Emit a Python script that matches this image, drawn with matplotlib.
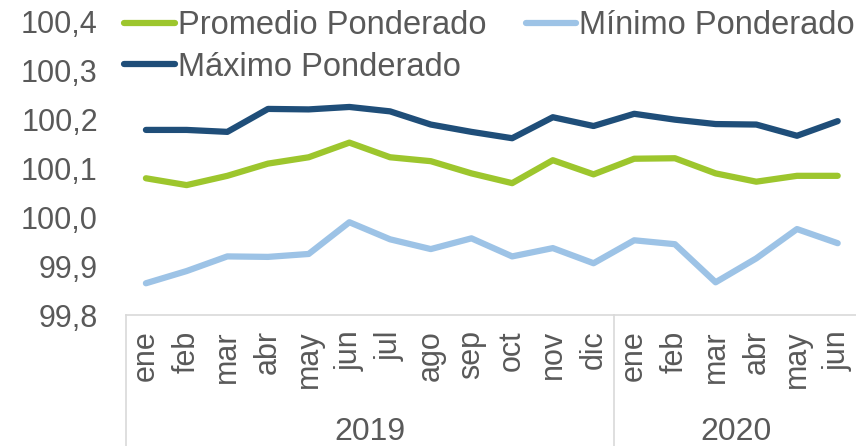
import matplotlib.pyplot as plt
from matplotlib.ticker import FuncFormatter, MultipleLocator
from matplotlib.lines import Line2D

plt.rcParams['font.family'] = ['Liberation Sans', 'DejaVu Sans']

meses = ["ene", "feb", "mar", "abr", "may", "jun", "jul", "ago", "sep", "oct", "nov", "dic",
         "ene", "feb", "mar", "abr", "may", "jun"]
anios = ["2019", "2020"]
meses_por_anio = [12, 6]

promedio = [100.080, 100.066, 100.085, 100.110, 100.123, 100.153, 100.123, 100.115, 100.090,
            100.070, 100.117, 100.088, 100.120, 100.121, 100.090, 100.073, 100.085, 100.085]
minimo = [99.865, 99.890, 99.920, 99.919, 99.925, 99.990, 99.955, 99.935, 99.957,
          99.920, 99.937, 99.906, 99.953, 99.945, 99.867, 99.916, 99.976, 99.947]
maximo = [100.179, 100.179, 100.175, 100.222, 100.221, 100.226, 100.217, 100.190, 100.175,
          100.162, 100.205, 100.187, 100.212, 100.200, 100.191, 100.190, 100.167, 100.197]

verde = "#9DC62D"
azul_claro = "#9DC3E6"
azul_osc = "#1F4E79"
gris_txt = "#595959"
gris_lin = "#D9D9D9"
fs = 22

fig = plt.figure(figsize=(8.56, 4.46), dpi=100)
ax = fig.add_axes([0.1467, 0.2937, 0.8533, 0.657])

x = list(range(len(meses)))
estilo = dict(lw=4.5, solid_capstyle="round", solid_joinstyle="round")
l1, = ax.plot(x, promedio, color=verde, **estilo)
l2, = ax.plot(x, minimo, color=azul_claro, **estilo)
l3, = ax.plot(x, maximo, color=azul_osc, **estilo)

ax.set_ylim(99.8, 100.4)
ax.set_xlim(-0.5, 17.45)
ax.yaxis.set_major_locator(MultipleLocator(0.1))
ax.yaxis.set_major_formatter(FuncFormatter(lambda v, p: f"{v:.1f}".replace(".", ",")))
ax.tick_params(axis="y", length=0, pad=20, labelsize=fs, labelcolor=gris_txt)

ax.set_xticks(x)
ax.set_xticklabels(meses, rotation=90)
ax.tick_params(axis="x", length=0, pad=11, labelsize=fs, labelcolor=gris_txt)

for s in ["left", "right", "top"]:
    ax.spines[s].set_visible(False)
ax.spines["bottom"].set_color(gris_lin)
ax.spines["bottom"].set_linewidth(1.2)

# marco de categorias bajo el eje
tr = ax.get_xaxis_transform()
inicio = -0.5
for anio, n in zip(anios, meses_por_anio):
    ax.add_line(Line2D([inicio, inicio], [0, -0.46], transform=tr, color=gris_lin,
                       lw=1.2, clip_on=False))
    ax.text(inicio + n / 2, -0.40, anio, transform=tr, ha="center", va="center",
            fontsize=fs + 1, color=gris_txt)
    inicio += n
ax.add_line(Line2D([inicio, inicio], [0, -0.46], transform=tr, color=gris_lin,
                   lw=1.2, clip_on=False))

leg = ax.legend([l1, l3, l2], ["Promedio Ponderado", "Máximo Ponderado", "Mínimo Ponderado"],
                ncol=2, loc="upper left", bbox_to_anchor=(-0.02, 1.085), frameon=False,
                fontsize=fs + 1.5, handlelength=1.55, handletextpad=0.1, columnspacing=1.2,
                labelspacing=0.32, borderaxespad=0)
for t in leg.get_texts():
    t.set_color(gris_txt)

fig.savefig("out.png", dpi=100)
